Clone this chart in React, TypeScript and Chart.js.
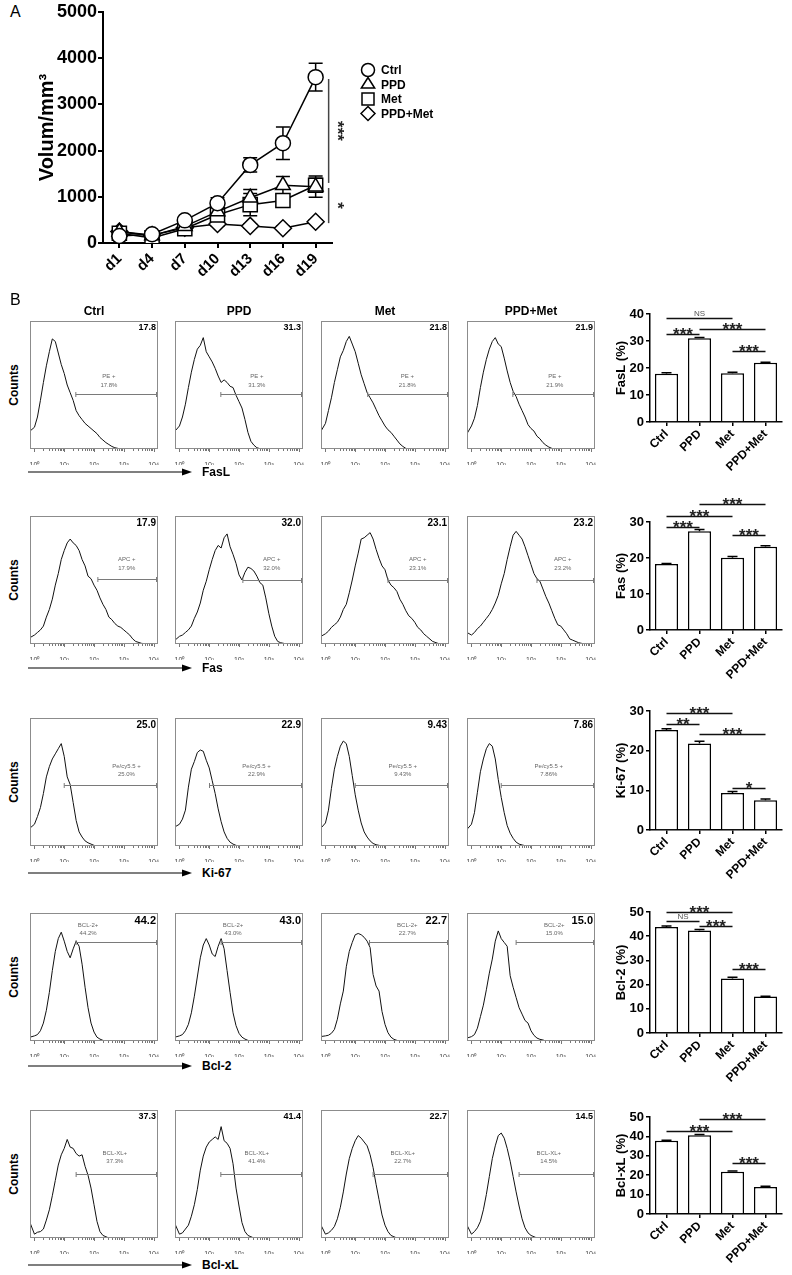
import React, { useEffect, useRef } from 'react';
import { Chart, registerables } from 'chart.js';

Chart.register(...registerables);

const SANS = '"Liberation Sans", Arial, Helvetica, sans-serif';

// ---------------- Panel A data ----------------
const DAYS = ['d1', 'd4', 'd7', 'd10', 'd13', 'd16', 'd19'];
const GROUPS = ['Ctrl', 'PPD', 'Met', 'PPD+Met'];
const VOL_CTRL = [150, 190, 490, 860, 1690, 2160, 3590];
const VOL_CTRL_ERR = [60, 40, 50, 120, 155, 350, 300];
const VOL_PPD = [240, 160, 360, 680, 980, 1250, 1220];
const VOL_PPD_ERR = [40, 40, 40, 80, 180, 190, 230];
const VOL_MET = [210, 110, 310, 610, 830, 920, 1250];
const VOL_MET_ERR = [50, 40, 40, 100, 240, 120, 150];
const VOL_PPDMET = [250, 170, 330, 410, 370, 320, 460];
const VOL_PPDMET_ERR = [30, 30, 30, 40, 40, 40, 40];
const VOL_TICKS = [0, 1000, 2000, 3000, 4000, 5000];
const SIG_A = [
  { from: 3550, to: 1300, text: '***' },
  { from: 1190, to: 430, text: '*' },
];

// ---------------- Panel B histogram data ----------------
// x grid in log10 fluorescence units, y = counts as % of plot height
const HIST_LOG = [-0.15, 0, 0.1, 0.2, 0.3, 0.4, 0.5, 0.6, 0.7, 0.8, 0.9, 1.0, 1.1, 1.2, 1.3, 1.4, 1.5, 1.6, 1.7, 1.8, 1.9, 2.0, 2.1, 2.2, 2.3, 2.4, 2.5, 2.6, 2.7, 2.8, 2.9, 3.0, 3.1, 3.2, 3.3, 3.4, 3.6, 3.8, 4.15];
const HIST_TICKS = [0, 1, 2, 3, 4];
const SUP = ['⁰', '¹', '²', '³', '⁴'];

const FASL_CTRL = [14, 17, 25, 38, 52, 65, 76, 86, 84, 75, 66, 59, 50, 44, 38, 30, 26, 23, 20, 18, 16, 14, 12, 9, 7, 5, 3.5, 2, 1, 0.5, 0, 0, 0, 0, 0, 0, 0, 0, 0];
const FASL_PPD = [14, 18, 25, 35, 48, 60, 70, 78, 81, 87, 76, 72, 68, 63, 57, 52, 54, 52, 49, 48, 42, 37, 32, 23, 13, 6, 3, 1, 0.3, 0, 0, 0, 0, 0, 0, 0, 0, 0, 0];
const FASL_MET = [14, 20, 30, 40, 52, 62, 72, 77, 84, 88, 82, 76, 67, 58, 51, 44, 40, 36, 31, 26, 22, 18, 15, 13, 10, 7, 4, 2, 0.5, 0, 0, 0, 0, 0, 0, 0, 0, 0, 0];
const FASL_PPDMET = [12, 18, 24, 34, 48, 60, 70, 78, 84, 87, 82, 80, 71, 61, 52, 45, 41, 35, 30, 25, 19, 16, 14, 10, 8, 5, 3, 1.5, 0.5, 0, 0, 0, 0, 0, 0, 0, 0, 0, 0];

const FAS_CTRL = [5, 7, 9, 11, 14, 21, 27, 35, 46, 55, 66, 73, 79, 82, 79, 77, 73, 66, 61, 53, 51, 46, 42, 36, 31, 27, 21, 19, 16, 14, 13, 11, 9, 7, 4, 2, 0.5, 0, 0];
const FAS_PPD = [3, 6, 7, 9, 11, 14, 20, 25, 32, 42, 49, 58, 66, 73, 77, 75, 83, 86, 76, 70, 63, 54, 50, 56, 60, 59, 57, 53, 48, 46, 36, 24, 14, 6, 2, 1, 0, 0, 0];
const FAS_MET = [6, 8, 10, 13, 15, 17, 21, 27, 31, 40, 50, 61, 71, 82, 83, 85, 87, 82, 74, 67, 61, 58, 50, 46, 44, 41, 35, 31, 26, 22, 20, 17, 13, 11, 8, 6, 2, 0.3, 0];
const FAS_PPDMET = [9, 7, 9, 12, 14, 17, 20, 23, 27, 32, 38, 47, 55, 66, 76, 85, 88, 85, 82, 76, 69, 62, 55, 51, 49, 43, 37, 32, 26, 20, 15, 14, 11, 8, 4, 3, 1, 0, 0];

const KI67_CTRL = [14, 17, 23, 30, 41, 54, 62, 68, 72, 76, 80, 70, 54, 48, 34, 20, 11, 7, 4, 2.5, 1.5, 0.5, 0, 0, 0, 0, 0, 0, 0, 0, 0, 0, 0, 0, 0, 0, 0, 0, 0];
const KI67_PPD = [15, 17, 21, 28, 46, 60, 66, 73, 75, 74, 67, 61, 51, 41, 29, 19, 11, 6, 3, 1.5, 0.5, 0, 0, 0, 0, 0, 0, 0, 0, 0, 0, 0, 0, 0, 0, 0, 0, 0, 0];
const KI67_MET = [14, 18, 28, 45, 60, 70, 78, 82, 80, 70, 55, 40, 28, 18, 11, 7, 4, 2, 1, 0.5, 0, 0, 0, 0, 0, 0, 0, 0, 0, 0, 0, 0, 0, 0, 0, 0, 0, 0, 0];
const KI67_PPDMET = [13, 17, 26, 42, 58, 68, 76, 80, 78, 68, 52, 38, 26, 16, 10, 6, 3, 1.5, 0.8, 0.3, 0, 0, 0, 0, 0, 0, 0, 0, 0, 0, 0, 0, 0, 0, 0, 0, 0, 0, 0];

const BCL2_CTRL = [3, 4, 5, 8, 14, 24, 38, 55, 70, 80, 85, 78, 70, 65, 72, 78, 74, 60, 42, 26, 14, 7, 3, 1.5, 0.5, 0, 0, 0, 0, 0, 0, 0, 0, 0, 0, 0, 0, 0, 0];
const BCL2_PPD = [3, 4, 5, 8, 13, 22, 35, 50, 65, 75, 80, 75, 68, 66, 74, 80, 72, 55, 38, 22, 12, 6, 3, 1.5, 0.5, 0, 0, 0, 0, 0, 0, 0, 0, 0, 0, 0, 0, 0, 0];
const BCL2_MET = [3.5, 4, 4.5, 6, 9, 17, 29, 39, 58, 70, 77, 83, 84, 83, 81, 78, 73, 52, 43, 39, 23, 13, 6.5, 3, 1.3, 0.5, 0, 0, 0, 0, 0, 0, 0, 0, 0, 0, 0, 0, 0];
const BCL2_PPDMET = [2.3, 3.4, 5, 10, 19, 28, 40, 53, 64, 78, 86, 80, 77, 74, 51, 42, 34, 26, 21, 16, 14, 8, 4.4, 2.3, 1.3, 0.8, 0, 0, 0, 0, 0, 0, 0, 0, 0, 0, 0, 0, 0];

const BCLXL_CTRL = [12, 3, 4.5, 5, 7, 14, 22, 33, 45, 57, 65, 70, 77, 71, 70, 66, 64, 65, 56, 49, 39, 26, 13, 5, 2, 1, 0, 0, 0, 0, 0, 0, 0, 0, 0, 0, 0, 0, 0];
const BCLXL_PPD = [11, 3, 4, 7, 10, 17, 26, 38, 53, 64, 71, 75, 77, 79, 77, 87, 76, 74, 70, 58, 39, 25, 12, 5, 2, 1, 0, 0, 0, 0, 0, 0, 0, 0, 0, 0, 0, 0, 0];
const BCLXL_MET = [10, 3, 4, 6, 9, 15, 24, 36, 50, 62, 70, 76, 80, 78, 75, 72, 65, 55, 42, 30, 18, 10, 5, 2, 1, 0, 0, 0, 0, 0, 0, 0, 0, 0, 0, 0, 0, 0, 0];
const BCLXL_PPDMET = [10, 3, 5, 8, 13, 22, 34, 48, 62, 72, 80, 82, 78, 70, 60, 48, 36, 25, 15, 8, 4, 2, 1, 0, 0, 0, 0, 0, 0, 0, 0, 0, 0, 0, 0, 0, 0, 0, 0];

const HIST_SERIES = [
  [FASL_CTRL, FASL_PPD, FASL_MET, FASL_PPDMET],
  [FAS_CTRL, FAS_PPD, FAS_MET, FAS_PPDMET],
  [KI67_CTRL, KI67_PPD, KI67_MET, KI67_PPDMET],
  [BCL2_CTRL, BCL2_PPD, BCL2_MET, BCL2_PPDMET],
  [BCLXL_CTRL, BCLXL_PPD, BCLXL_MET, BCLXL_PPDMET],
];
const MARKERS = ['FasL', 'Fas', 'Ki-67', 'Bcl-2', 'Bcl-xL'];
const GATE_NAMES = ['PE +', 'APC +', 'Pe/cy5.5 +', 'BCL-2+', 'BCL-XL+'];
const HIST_PCT = [
  ['17.8', '31.3', '21.8', '21.9'],
  ['17.9', '32.0', '23.1', '23.2'],
  ['25.0', '22.9', '9.43', '7.86'],
  ['44.2', '43.0', '22.7', '15.0'],
  ['37.3', '41.4', '22.7', '14.5'],
];
const GATE_Y = [
  [43, 43, 43, 43],
  [51, 50, 50, 50],
  [48, 48, 48, 48],
  [77, 77, 77, 77],
  [50, 50, 50, 50],
];
const GATE_START = [
  [1.39, 1.39, 1.42, 1.39],
  [2.13, 2.13, 2.1, 2.2],
  [1.0, 1.01, 1.0, 1.0],
  [1.4, 1.4, 1.48, 1.5],
  [1.4, 1.39, 1.6, 1.6],
];
const GATE_TEXT_X = [
  [2.5, 2.6, 2.75, 2.8],
  [3.1, 3.1, 3.1, 3.07],
  [3.09, 2.59, 2.6, 2.6],
  [1.8, 1.8, 2.75, 2.78],
  [2.7, 2.6, 2.6, 2.6],
];
const GATE_TEXT_Y = [
  [57, 50],
  [66, 59],
  [62, 56],
  [90, 84],
  [66, 60],
];

// ---------------- Panel B bar data ----------------
const BAR_FASL = [17.9, 31.0, 18.1, 21.9];
const BAR_FASL_ERR = [0.3, 0.3, 0.3, 0.2];
const BAR_FAS = [18.3, 27.4, 20.1, 23.1];
const BAR_FAS_ERR = [0.2, 0.5, 0.3, 0.3];
const BAR_KI67 = [25.2, 21.8, 9.3, 7.5];
const BAR_KI67_ERR = [0.3, 0.6, 0.4, 0.3];
const BAR_BCL2 = [43.8, 42.4, 22.5, 15.1];
const BAR_BCL2_ERR = [0.4, 0.4, 0.5, 0.1];
const BAR_BCLXL = [37.7, 40.6, 21.8, 13.9];
const BAR_BCLXL_ERR = [0.3, 0.4, 0.4, 0.4];
const BAR_MAX = [40, 30, 30, 50, 50];
const SIG_FASL = [
  { a: 0, b: 2, y: 38.5, t: 'NS' },
  { a: 0, b: 1, y: 32.7, t: '***' },
  { a: 1, b: 3, y: 34.4, t: '***' },
  { a: 2, b: 3, y: 26.2, t: '***' },
];
const SIG_FAS = [
  { a: 0, b: 1, y: 28.6, t: '***' },
  { a: 0, b: 2, y: 31.8, t: '***' },
  { a: 1, b: 3, y: 34.9, t: '***' },
  { a: 2, b: 3, y: 26.5, t: '***' },
];
const SIG_KI67 = [
  { a: 0, b: 2, y: 29.6, t: '***' },
  { a: 0, b: 1, y: 26.7, t: '**' },
  { a: 1, b: 3, y: 24.2, t: '***' },
  { a: 2, b: 3, y: 10.5, t: '*' },
];
const SIG_BCL2 = [
  { a: 0, b: 2, y: 50, t: '***' },
  { a: 0, b: 1, y: 46.1, t: 'NS' },
  { a: 1, b: 2, y: 44.1, t: '***' },
  { a: 2, b: 3, y: 26.4, t: '***' },
];
const SIG_BCLXL = [
  { a: 1, b: 3, y: 49.1, t: '***' },
  { a: 0, b: 2, y: 42.8, t: '***' },
  { a: 2, b: 3, y: 26.5, t: '***' },
];
const BAR_VALUES = [BAR_FASL, BAR_FAS, BAR_KI67, BAR_BCL2, BAR_BCLXL];
const BAR_ERRS = [BAR_FASL_ERR, BAR_FAS_ERR, BAR_KI67_ERR, BAR_BCL2_ERR, BAR_BCLXL_ERR];
const BAR_SIGS = [SIG_FASL, SIG_FAS, SIG_KI67, SIG_BCL2, SIG_BCLXL];
const BAR_TITLES = ['FasL (%)', 'Fas (%)', 'Ki-67 (%)', 'Bcl-2 (%)', 'Bcl-xL (%)'];

// ---------------- layout ----------------
const ROW_TOPS = [321, 516, 718, 913, 1110];
const COL_LEFTS = [30, 175, 321, 467];
const BOX_W = 128;
const BOX_H = 128;
const ARROW_Y = [472, 668, 873, 1066, 1265];
const NUM_SIZE = [9, 10, 10, 11, 9];
const BAR_TOP = [314, 522, 711, 912, 1117];
const BAR_BOTTOM = [422, 630, 830, 1033, 1214];

// ---------------- drawing helpers ----------------
function drawMarker(ctx: CanvasRenderingContext2D, style: string, x: number, y: number, r: number) {
  ctx.beginPath();
  if (style === 'circle') {
    ctx.arc(x, y, r, 0, Math.PI * 2);
  } else if (style === 'triangle') {
    const h = r * 1.5;
    ctx.moveTo(x, y - r);
    ctx.lineTo(x + r * 0.95, y + h - r);
    ctx.lineTo(x - r * 0.95, y + h - r);
    ctx.closePath();
  } else if (style === 'rect') {
    ctx.rect(x - r, y - r, 2 * r, 2 * r);
  } else {
    ctx.moveTo(x, y - r);
    ctx.lineTo(x + r, y);
    ctx.lineTo(x, y + r);
    ctx.lineTo(x - r, y);
    ctx.closePath();
  }
  ctx.fillStyle = '#fff';
  ctx.fill();
  ctx.lineWidth = 1.5;
  ctx.strokeStyle = '#000';
  ctx.stroke();
}

const volPlugin = {
  id: 'vol',
  beforeDatasetsDraw(chart: any, _a: any, o: any) {
    const { ctx, scales } = chart;
    const y = scales.y;
    ctx.save();
    ctx.strokeStyle = '#000';
    ctx.lineWidth = 1.5;
    o.errs.forEach((errs: number[], i: number) => {
      const meta = chart.getDatasetMeta(i);
      const vals = chart.data.datasets[i].data as number[];
      errs.forEach((e, j) => {
        const px = meta.data[j].x;
        const yt = y.getPixelForValue(vals[j] + e);
        const yb = y.getPixelForValue(Math.max(0, vals[j] - e));
        ctx.beginPath();
        ctx.moveTo(px, yt);
        ctx.lineTo(px, yb);
        ctx.moveTo(px - 7, yt);
        ctx.lineTo(px + 7, yt);
        ctx.moveTo(px - 7, yb);
        ctx.lineTo(px + 7, yb);
        ctx.stroke();
      });
    });
    ctx.restore();
  },
  afterDraw(chart: any, _a: any, o: any) {
    const { ctx, scales } = chart;
    const x = scales.x;
    const y = scales.y;
    ctx.save();
    // legend
    const styles = ['circle', 'triangle', 'rect', 'rectRot'];
    const radii = [6.5, 7, 6, 7];
    GROUPS.forEach((g, i) => {
      const ly = 70 + i * 14.5;
      drawMarker(ctx, styles[i], 368, ly, radii[i]);
      ctx.fillStyle = '#000';
      ctx.font = `bold 12px ${SANS}`;
      ctx.textAlign = 'left';
      ctx.textBaseline = 'middle';
      ctx.fillText(g, 381, ly + 1);
    });
    // significance brackets
    const sx = x.getPixelForValue(DAYS.length - 1) + 13;
    o.sig.forEach((s: any) => {
      const y1 = y.getPixelForValue(s.from);
      const y2 = y.getPixelForValue(s.to);
      ctx.strokeStyle = '#444';
      ctx.lineWidth = 1.5;
      ctx.beginPath();
      ctx.moveTo(sx, y1);
      ctx.lineTo(sx, y2);
      ctx.stroke();
      ctx.save();
      ctx.translate(sx + 3, (y1 + y2) / 2);
      ctx.rotate(Math.PI / 2);
      ctx.fillStyle = '#222';
      ctx.font = `bold 17px ${SANS}`;
      ctx.textAlign = 'center';
      ctx.textBaseline = 'alphabetic';
      ctx.fillText(s.text, 0, 0);
      ctx.restore();
    });
    ctx.restore();
  },
};

function VolumeChart() {
  const ref = useRef<HTMLCanvasElement>(null);
  useEffect(() => {
    const series = [VOL_CTRL, VOL_PPD, VOL_MET, VOL_PPDMET];
    const errs = [VOL_CTRL_ERR, VOL_PPD_ERR, VOL_MET_ERR, VOL_PPDMET_ERR];
    const styles = ['circle', 'triangle', 'rect', 'rectRot'];
    const radii = [7.5, 8.5, 10, 8.5];
    const chart = new Chart(ref.current as HTMLCanvasElement, {
      type: 'line',
      data: {
        labels: DAYS,
        datasets: series.map((d, i) => ({
          label: GROUPS[i],
          data: d,
          borderColor: '#000',
          borderWidth: 1.5,
          pointStyle: styles[i] as any,
          pointRadius: radii[i],
          pointBackgroundColor: '#fff',
          pointBorderColor: '#000',
          pointBorderWidth: 1.5,
          tension: 0,
          fill: false,
        })),
      },
      options: {
        animation: false,
        responsive: false,
        layout: { padding: { top: 12, right: 148, left: 0, bottom: 0 } },
        plugins: {
          legend: { display: false },
          tooltip: { enabled: false },
          vol: { errs, sig: SIG_A },
        } as any,
        scales: {
          x: {
            offset: true,
            afterFit: (s: any) => { s.height = 52; },
            grid: { display: true, drawOnChartArea: false, offset: false, tickLength: 5, color: '#000', lineWidth: 2 },
            border: { display: true, color: '#000', width: 2 },
            ticks: { font: { family: SANS, size: 15, weight: 'bold' }, color: '#000', minRotation: 45, maxRotation: 45, padding: 2, autoSkip: false },
          },
          y: {
            min: 0,
            max: 5000,
            afterFit: (s: any) => { s.width = 103; },
            afterBuildTicks: (s: any) => { s.ticks = VOL_TICKS.map((v) => ({ value: v })); },
            grid: { display: true, drawOnChartArea: false, tickLength: 5, color: '#000', lineWidth: 2 },
            border: { display: true, color: '#000', width: 2 },
            ticks: { callback: (v: any) => String(v), font: { family: SANS, size: 18, weight: 'bold' }, color: '#000', padding: 1 },
            title: { display: true, text: 'Volum/mm³', font: { family: SANS, size: 20, weight: 'bold' }, color: '#000', padding: { top: 35, bottom: 0 } },
          },
        },
      } as any,
      plugins: [volPlugin],
    });
    return () => chart.destroy();
  }, []);
  return <canvas ref={ref} width={480} height={295} style={{ position: 'absolute', left: 0, top: 0, width: 480, height: 295 }} />;
}

const histPlugin = {
  id: 'hist',
  afterDraw(chart: any, _a: any, o: any) {
    const { ctx, chartArea: a, scales } = chart;
    const x = scales.x;
    const y = scales.y;
    ctx.save();
    ctx.strokeStyle = '#8c8c8c';
    ctx.lineWidth = 1;
    ctx.strokeRect(a.left + 0.5, a.top + 0.5, a.right - a.left - 1, a.bottom - a.top - 1);
    // ticks
    ctx.strokeStyle = '#777';
    ctx.beginPath();
    HIST_TICKS.forEach((d) => {
      const px = Math.round(x.getPixelForValue(d)) + 0.5;
      ctx.moveTo(px, a.bottom);
      ctx.lineTo(px, a.bottom + 3);
      if (d < 4) {
        for (let k = 2; k <= 9; k++) {
          const mx = Math.round(x.getPixelForValue(d + Math.log10(k))) + 0.5;
          ctx.moveTo(mx, a.bottom);
          ctx.lineTo(mx, a.bottom + 2);
        }
      }
    });
    ctx.stroke();
    // gate
    const gy = Math.round(y.getPixelForValue(o.gateY)) + 0.5;
    const gx1 = x.getPixelForValue(o.gateStart);
    const gx2 = a.right - 1.5;
    ctx.strokeStyle = '#7a7a7a';
    ctx.lineWidth = 1;
    ctx.beginPath();
    ctx.moveTo(gx1, gy);
    ctx.lineTo(gx2, gy);
    ctx.moveTo(gx1, gy - 2.5);
    ctx.lineTo(gx1, gy + 2.5);
    ctx.moveTo(gx2, gy - 2.5);
    ctx.lineTo(gx2, gy + 2.5);
    ctx.stroke();
    // gate text
    ctx.fillStyle = '#666';
    ctx.font = `6px ${SANS}`;
    ctx.textAlign = 'center';
    ctx.textBaseline = 'middle';
    const tx = x.getPixelForValue(o.textX);
    ctx.fillText(o.name, tx, y.getPixelForValue(o.textY1));
    ctx.fillText(o.pct + '%', tx, y.getPixelForValue(o.textY2));
    // number
    ctx.fillStyle = '#000';
    ctx.font = `bold ${o.numSize}px ${SANS}`;
    ctx.textAlign = 'right';
    ctx.textBaseline = 'top';
    ctx.fillText(o.pct, a.right - 2, a.top + 2);
    ctx.restore();
  },
};

function Histogram({ row, col }: { row: number; col: number }) {
  const ref = useRef<HTMLCanvasElement>(null);
  const W = BOX_W + 16;
  const H = BOX_H + 16;
  useEffect(() => {
    const vals = HIST_SERIES[row][col];
    const chart = new Chart(ref.current as HTMLCanvasElement, {
      type: 'line',
      data: {
        datasets: [{
          data: HIST_LOG.map((l, i) => ({ x: l, y: vals[i] })),
          borderColor: '#111',
          borderWidth: 1,
          pointRadius: 0,
          tension: 0,
          fill: false,
        }],
      },
      options: {
        animation: false,
        responsive: false,
        layout: { padding: { left: 8, right: 8, top: 0, bottom: 0 } },
        plugins: {
          legend: { display: false },
          tooltip: { enabled: false },
          hist: {
            gateY: GATE_Y[row][col],
            gateStart: GATE_START[row][col],
            textX: GATE_TEXT_X[row][col],
            textY1: GATE_TEXT_Y[row][0],
            textY2: GATE_TEXT_Y[row][1],
            name: GATE_NAMES[row],
            pct: HIST_PCT[row][col],
            numSize: NUM_SIZE[row],
          },
        } as any,
        scales: {
          x: {
            type: 'linear',
            min: -0.15,
            max: 4.15,
            afterFit: (s: any) => { s.height = 16; },
            afterBuildTicks: (s: any) => { s.ticks = HIST_TICKS.map((v) => ({ value: v })); },
            grid: { display: false },
            border: { display: false },
            ticks: {
              callback: (v: any) => '10' + SUP[Math.round(Number(v))],
              font: { family: SANS, size: 7 },
              color: '#444',
              maxRotation: 0,
              minRotation: 0,
              padding: 4,
            },
          },
          y: { display: false, min: 0, max: 100 },
        },
      } as any,
      plugins: [histPlugin],
    });
    return () => chart.destroy();
  }, [row, col]);
  return (
    <canvas
      ref={ref}
      width={W}
      height={H}
      style={{ position: 'absolute', left: COL_LEFTS[col] - 8, top: ROW_TOPS[row], width: W, height: H }}
    />
  );
}

const barPlugin = {
  id: 'barx',
  afterDatasetsDraw(chart: any, _a: any, o: any) {
    const { ctx, scales } = chart;
    const x = scales.x;
    const y = scales.y;
    ctx.save();
    ctx.strokeStyle = '#000';
    ctx.lineWidth = 1.5;
    const vals = chart.data.datasets[0].data as number[];
    o.errs.forEach((e: number, i: number) => {
      const px = x.getPixelForValue(i);
      const yt = y.getPixelForValue(vals[i] + e);
      const yv = y.getPixelForValue(vals[i]);
      ctx.beginPath();
      ctx.moveTo(px, yv);
      ctx.lineTo(px, yt);
      ctx.moveTo(px - 5, yt);
      ctx.lineTo(px + 5, yt);
      ctx.stroke();
    });
    o.sigs.forEach((s: any) => {
      const x1 = x.getPixelForValue(s.a);
      const x2 = x.getPixelForValue(s.b);
      const ly = Math.round(y.getPixelForValue(s.y)) + 0.5;
      ctx.strokeStyle = '#111';
      ctx.lineWidth = 1.5;
      ctx.beginPath();
      ctx.moveTo(x1, ly);
      ctx.lineTo(x2, ly);
      ctx.stroke();
      ctx.textAlign = 'center';
      if (s.t === 'NS') {
        ctx.fillStyle = '#555';
        ctx.font = `8px ${SANS}`;
        ctx.textBaseline = 'bottom';
        ctx.fillText('NS', (x1 + x2) / 2, ly - 1);
      } else {
        ctx.fillStyle = '#222';
        ctx.font = `bold 17px ${SANS}`;
        ctx.textBaseline = 'alphabetic';
        ctx.fillText(s.t, (x1 + x2) / 2, ly + 5);
      }
    });
    ctx.restore();
  },
};

function BarPanel({ row }: { row: number }) {
  const ref = useRef<HTMLCanvasElement>(null);
  const padTop = 34;
  const xH = 58;
  const top = BAR_TOP[row] - padTop;
  const H = BAR_BOTTOM[row] - BAR_TOP[row] + padTop + xH;
  useEffect(() => {
    const chart = new Chart(ref.current as HTMLCanvasElement, {
      type: 'bar',
      data: {
        labels: GROUPS,
        datasets: [{
          data: BAR_VALUES[row],
          backgroundColor: '#fff',
          borderColor: '#000',
          borderWidth: 1.5,
          borderSkipped: 'bottom',
          barPercentage: 0.7,
          categoryPercentage: 1,
        }],
      },
      options: {
        animation: false,
        responsive: false,
        layout: { padding: { top: padTop, right: 10, left: 0, bottom: 0 } },
        plugins: {
          legend: { display: false },
          tooltip: { enabled: false },
          barx: { errs: BAR_ERRS[row], sigs: BAR_SIGS[row] },
        } as any,
        scales: {
          x: {
            offset: true,
            afterFit: (s: any) => { s.height = xH; },
            grid: { display: true, drawOnChartArea: false, offset: false, tickLength: 4, color: '#000', lineWidth: 1.5 },
            border: { display: true, color: '#000', width: 1.5 },
            ticks: { font: { family: SANS, size: 12, weight: 'bold' }, color: '#000', minRotation: 45, maxRotation: 45, padding: 1, autoSkip: false },
          },
          y: {
            min: 0,
            max: BAR_MAX[row],
            afterFit: (s: any) => { s.width = 50; },
            ticks: { stepSize: 10, font: { family: SANS, size: 13, weight: 'bold' }, color: '#000', padding: 2 },
            grid: { display: true, drawOnChartArea: false, tickLength: 4, color: '#000', lineWidth: 1.5 },
            border: { display: true, color: '#000', width: 1.5 },
            title: { display: true, text: BAR_TITLES[row], font: { family: SANS, size: 13, weight: 'bold' }, color: '#000', padding: { top: 14, bottom: 0 } },
          },
        },
      } as any,
      plugins: [barPlugin],
    });
    return () => chart.destroy();
  }, [row]);
  return <canvas ref={ref} width={192} height={H} style={{ position: 'absolute', left: 600, top, width: 192, height: H }} />;
}

function Arrow({ row }: { row: number }) {
  const y = ARROW_Y[row];
  return (
    <>
      <svg width={170} height={10} style={{ position: 'absolute', left: 28, top: y - 5 }}>
        <line x1={0} y1={5} x2={160} y2={5} stroke="#000" strokeWidth={1.2} />
        <path d="M154,1.5 L164,5 L154,8.5 Z" fill="#000" />
      </svg>
      <div style={{ position: 'absolute', left: 202, top: y - 8, fontSize: 12, fontWeight: 'bold', lineHeight: '16px', whiteSpace: 'nowrap' }}>{MARKERS[row]}</div>
    </>
  );
}

export default function App() {
  return (
    <div style={{ position: 'absolute', left: 0, top: 0, width: 792, height: 1275, background: '#fff', fontFamily: SANS, color: '#000', overflow: 'hidden' }}>
      <div style={{ position: 'absolute', left: 10, top: 3, fontSize: 16, lineHeight: '18px' }}>A</div>
      <VolumeChart />
      <div style={{ position: 'absolute', left: 10, top: 291, fontSize: 16, lineHeight: '18px' }}>B</div>
      {GROUPS.map((g, c) => (
        <div key={g} style={{ position: 'absolute', left: COL_LEFTS[c] + BOX_W / 2, top: 311, transform: 'translate(-50%, -50%)', fontSize: 12, fontWeight: 'bold', whiteSpace: 'nowrap' }}>{g}</div>
      ))}
      {ROW_TOPS.map((t, r) => (
        <React.Fragment key={r}>
          <div style={{ position: 'absolute', left: 14, top: t + BOX_H / 2, transform: 'translate(-50%, -50%) rotate(-90deg)', fontSize: 12, fontWeight: 'bold', whiteSpace: 'nowrap' }}>Counts</div>
          {COL_LEFTS.map((_, c) => <Histogram key={c} row={r} col={c} />)}
          <Arrow row={r} />
          <BarPanel row={r} />
        </React.Fragment>
      ))}
    </div>
  );
}
